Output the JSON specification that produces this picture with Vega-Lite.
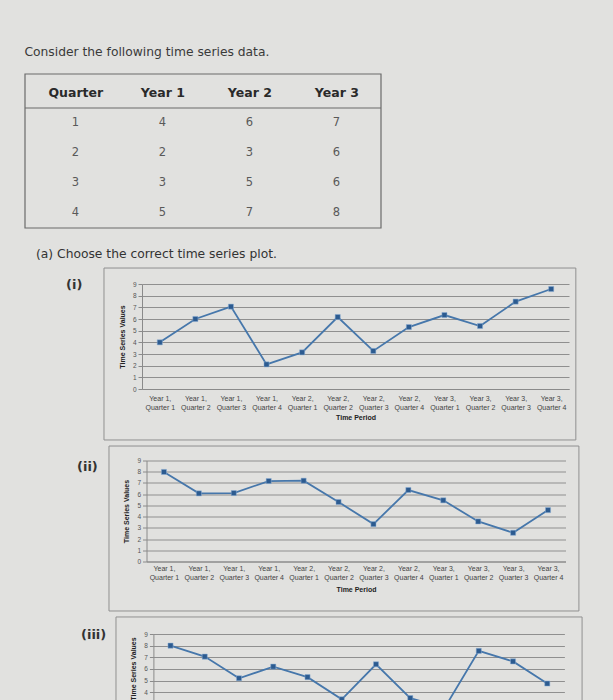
{
  "$schema": "https://vega.github.io/schema/vega-lite/v6.json",
  "background": "#e1e1df",
  "padding": {"top": 46, "left": 24, "right": 30, "bottom": 0},
  "bounds": "flush",
  "spacing": 0,
  "config": {"view": {"stroke": null}, "font": "DejaVu Sans"},
  "datasets": {
    "table": [
      {"quarter": 1, "column": "Quarter", "value": 1}, {"quarter": 1, "column": "Year 1", "value": 4}, {"quarter": 1, "column": "Year 2", "value": 6}, {"quarter": 1, "column": "Year 3", "value": 7},
      {"quarter": 2, "column": "Quarter", "value": 2}, {"quarter": 2, "column": "Year 1", "value": 2}, {"quarter": 2, "column": "Year 2", "value": 3}, {"quarter": 2, "column": "Year 3", "value": 6},
      {"quarter": 3, "column": "Quarter", "value": 3}, {"quarter": 3, "column": "Year 1", "value": 3}, {"quarter": 3, "column": "Year 2", "value": 5}, {"quarter": 3, "column": "Year 3", "value": 6},
      {"quarter": 4, "column": "Quarter", "value": 4}, {"quarter": 4, "column": "Year 1", "value": 5}, {"quarter": 4, "column": "Year 2", "value": 7}, {"quarter": 4, "column": "Year 3", "value": 8}
    ],
    "series": [
      {"plot": "i", "period": "Year 1, Quarter 1", "value": 4.0},
      {"plot": "i", "period": "Year 1, Quarter 2", "value": 6.0},
      {"plot": "i", "period": "Year 1, Quarter 3", "value": 7.06},
      {"plot": "i", "period": "Year 1, Quarter 4", "value": 2.11},
      {"plot": "i", "period": "Year 2, Quarter 1", "value": 3.14},
      {"plot": "i", "period": "Year 2, Quarter 2", "value": 6.17},
      {"plot": "i", "period": "Year 2, Quarter 3", "value": 3.26},
      {"plot": "i", "period": "Year 2, Quarter 4", "value": 5.31},
      {"plot": "i", "period": "Year 3, Quarter 1", "value": 6.34},
      {"plot": "i", "period": "Year 3, Quarter 2", "value": 5.4},
      {"plot": "i", "period": "Year 3, Quarter 3", "value": 7.49},
      {"plot": "i", "period": "Year 3, Quarter 4", "value": 8.57},
      {"plot": "ii", "period": "Year 1, Quarter 1", "value": 7.98},
      {"plot": "ii", "period": "Year 1, Quarter 2", "value": 6.07},
      {"plot": "ii", "period": "Year 1, Quarter 3", "value": 6.1},
      {"plot": "ii", "period": "Year 1, Quarter 4", "value": 7.17},
      {"plot": "ii", "period": "Year 2, Quarter 1", "value": 7.2},
      {"plot": "ii", "period": "Year 2, Quarter 2", "value": 5.3},
      {"plot": "ii", "period": "Year 2, Quarter 3", "value": 3.33},
      {"plot": "ii", "period": "Year 2, Quarter 4", "value": 6.37},
      {"plot": "ii", "period": "Year 3, Quarter 1", "value": 5.45},
      {"plot": "ii", "period": "Year 3, Quarter 2", "value": 3.57},
      {"plot": "ii", "period": "Year 3, Quarter 3", "value": 2.56},
      {"plot": "ii", "period": "Year 3, Quarter 4", "value": 4.58},
      {"plot": "iii", "period": "Year 1, Quarter 1", "value": 8.0},
      {"plot": "iii", "period": "Year 1, Quarter 2", "value": 7.06},
      {"plot": "iii", "period": "Year 1, Quarter 3", "value": 5.2},
      {"plot": "iii", "period": "Year 1, Quarter 4", "value": 6.2},
      {"plot": "iii", "period": "Year 2, Quarter 1", "value": 5.3},
      {"plot": "iii", "period": "Year 2, Quarter 2", "value": 3.4},
      {"plot": "iii", "period": "Year 2, Quarter 3", "value": 6.4},
      {"plot": "iii", "period": "Year 2, Quarter 4", "value": 3.5},
      {"plot": "iii", "period": "Year 3, Quarter 1", "value": 2.65},
      {"plot": "iii", "period": "Year 3, Quarter 2", "value": 7.55},
      {"plot": "iii", "period": "Year 3, Quarter 3", "value": 6.65},
      {"plot": "iii", "period": "Year 3, Quarter 4", "value": 4.75}
    ]
  },
  "vconcat": [
    {
      "width": 356,
      "height": 120,
      "title": {"text": "Consider the following time series data.", "anchor": "start", "offset": 15, "fontSize": 12.3, "fontWeight": "normal", "color": "#3a3a3a", "font": "DejaVu Sans"},
      "layer": [
        {
          "data": {"values": [{}]},
          "mark": {"type": "rect", "filled": false, "color": "#6b6b6b", "strokeWidth": 1.2},
          "encoding": {
            "y": {"datum": -0.633, "type": "quantitative", "scale": {"domain": [0.5, 4.5], "reverse": true, "nice": false, "zero": false}, "axis": null},
            "y2": {"datum": 4.5}
          }
        },
        {
          "data": {"values": [{}]},
          "mark": {"type": "rule", "color": "#6b6b6b", "strokeWidth": 1.2},
          "encoding": {
            "y": {"datum": 0.5, "type": "quantitative", "scale": {"domain": [0.5, 4.5], "reverse": true, "nice": false, "zero": false}, "axis": null}
          }
        },
        {
          "data": {"name": "table"},
          "mark": {"type": "text", "fontSize": 11.5, "color": "#595959", "baseline": "middle"},
          "encoding": {
            "x": {"field": "column", "type": "nominal", "sort": null,
                  "scale": {"type": "point", "domain": ["Quarter", "Year 1", "Year 2", "Year 3"], "padding": 0.546, "align": 0.53},
                  "axis": {"orient": "top", "title": null, "ticks": false, "domain": false, "labelAngle": 0, "labelFont": "DejaVu Sans", "labelFontSize": 12.5, "labelFontWeight": "bold", "labelColor": "#2a2a2a", "labelPadding": 9}},
            "y": {"field": "quarter", "type": "quantitative", "scale": {"domain": [0.5, 4.5], "reverse": true, "nice": false, "zero": false}, "axis": null},
            "text": {"field": "value"}
          }
        }
      ]
    },
    {
      "width": 22,
      "height": 56,
      "data": {"values": [{}]},
      "mark": {"type": "text", "text": "(a) Choose the correct time series plot.", "align": "left", "baseline": "middle", "fontSize": 12.3, "color": "#333333", "dy": -2},
      "encoding": {}
    },
    {
      "vconcat": [
        {
          "hconcat": [
            {
              "width": 82, "height": 2,
              "data": {"values": [{}]},
              "mark": {"type": "text", "text": "(i)", "align": "left", "baseline": "middle", "fontSize": 13, "fontWeight": "bold", "color": "#333333"},
              "encoding": {}
            },
            {
              "width": 427, "height": 105,
              "layer": [
                {
                  "data": {"values": [{}]},
                  "mark": {"type": "rect", "filled": false, "color": "#909090", "strokeWidth": 1},
                  "encoding": {
                    "x": {"datum": -0.089, "type": "quantitative", "scale": {"domain": [0, 1], "nice": false, "zero": false}, "axis": null},
                    "x2": {"datum": 1.016},
                    "y": {"datum": 10.37, "type": "quantitative", "scale": {"domain": [0, 9], "nice": false, "zero": false},
                          "axis": {"values": [0, 1, 2, 3, 4, 5, 6, 7, 8, 9], "title": "Time Series Values", "grid": true, "gridColor": "#8f8f8f", "gridWidth": 1, "domainColor": "#8a8a8a", "tickColor": "#8a8a8a", "tickSize": 4, "labelFont": "Liberation Sans", "labelFontSize": 6.5, "labelColor": "#555555", "labelPadding": 2, "titleFont": "Liberation Sans", "titleFontSize": 7, "titleFontWeight": "bold", "titleColor": "#222222", "titlePadding": 7}},
                    "y2": {"datum": -4.37}
                  }
                },
                {
                  "data": {"name": "series"},
                  "transform": [{"filter": "datum.plot == 'i'"}],
                  "mark": {"type": "line", "color": "#4677ab", "strokeWidth": 1.8,
                           "point": {"shape": "square", "size": 26, "filled": true, "color": "#2c5b90", "stroke": "#8fb0d6", "strokeWidth": 0.5}},
                  "encoding": {
                    "x": {"field": "period", "type": "ordinal", "sort": null, "scale": {"type": "point", "padding": 0.5},
                          "axis": {"title": "Time Period", "labelExpr": "[slice(datum.label, 0, 7), slice(datum.label, 8)]", "labelAngle": 0, "labelFont": "Liberation Sans", "labelFontSize": 7, "labelColor": "#444444", "labelLineHeight": 9, "labelPadding": 5, "ticks": false, "domainColor": "#8a8a8a", "titleFont": "Liberation Sans", "titleFontSize": 7, "titleFontWeight": "bold", "titleColor": "#222222", "titlePadding": 3, "labelOverlap": false}},
                    "y": {"field": "value", "type": "quantitative", "scale": {"domain": [0, 9], "nice": false, "zero": false},
                          "axis": {"values": [0, 1, 2, 3, 4, 5, 6, 7, 8, 9], "title": "Time Series Values", "grid": true, "gridColor": "#8f8f8f", "gridWidth": 1, "domainColor": "#8a8a8a", "tickColor": "#8a8a8a", "tickSize": 4, "labelFont": "Liberation Sans", "labelFontSize": 6.5, "labelColor": "#555555", "labelPadding": 2, "titleFont": "Liberation Sans", "titleFontSize": 7, "titleFontWeight": "bold", "titleColor": "#222222", "titlePadding": 7}}
                  }
                }
              ],
              "resolve": {"scale": {"x": "independent"}}
            }
          ],
          "spacing": 35,
          "bounds": "flush"
        },
        {
          "hconcat": [
            {
              "width": 104, "height": 13,
              "data": {"values": [{}]},
              "mark": {"type": "text", "text": "(ii)", "align": "left", "baseline": "middle", "fontSize": 13, "fontWeight": "bold", "color": "#333333"},
              "encoding": {}
            },
            {
              "width": 419, "height": 101,
              "layer": [
                {
                  "data": {"values": [{}]},
                  "mark": {"type": "rect", "filled": false, "color": "#909090", "strokeWidth": 1},
                  "encoding": {
                    "x": {"datum": -0.0895, "type": "quantitative", "scale": {"domain": [0, 1], "nice": false, "zero": false}, "axis": null},
                    "x2": {"datum": 1.032},
                    "y": {"datum": 10.29, "type": "quantitative", "scale": {"domain": [0, 9], "nice": false, "zero": false},
                          "axis": {"values": [0, 1, 2, 3, 4, 5, 6, 7, 8, 9], "title": "Time Series Values", "grid": true, "gridColor": "#8f8f8f", "gridWidth": 1, "domainColor": "#8a8a8a", "tickColor": "#8a8a8a", "tickSize": 4, "labelFont": "Liberation Sans", "labelFontSize": 6.5, "labelColor": "#555555", "labelPadding": 2, "titleFont": "Liberation Sans", "titleFontSize": 7, "titleFontWeight": "bold", "titleColor": "#222222", "titlePadding": 7}},
                    "y2": {"datum": -4.41}
                  }
                },
                {
                  "data": {"name": "series"},
                  "transform": [{"filter": "datum.plot == 'ii'"}],
                  "mark": {"type": "line", "color": "#4677ab", "strokeWidth": 1.8,
                           "point": {"shape": "square", "size": 26, "filled": true, "color": "#2c5b90", "stroke": "#8fb0d6", "strokeWidth": 0.5}},
                  "encoding": {
                    "x": {"field": "period", "type": "ordinal", "sort": null, "scale": {"type": "point", "padding": 0.5},
                          "axis": {"title": "Time Period", "labelExpr": "[slice(datum.label, 0, 7), slice(datum.label, 8)]", "labelAngle": 0, "labelFont": "Liberation Sans", "labelFontSize": 7, "labelColor": "#444444", "labelLineHeight": 9, "labelPadding": 3, "ticks": false, "domainColor": "#8a8a8a", "titleFont": "Liberation Sans", "titleFontSize": 7, "titleFontWeight": "bold", "titleColor": "#222222", "titlePadding": 5, "labelOverlap": false}},
                    "y": {"field": "value", "type": "quantitative", "scale": {"domain": [0, 9], "nice": false, "zero": false},
                          "axis": {"values": [0, 1, 2, 3, 4, 5, 6, 7, 8, 9], "title": "Time Series Values", "grid": true, "gridColor": "#8f8f8f", "gridWidth": 1, "domainColor": "#8a8a8a", "tickColor": "#8a8a8a", "tickSize": 4, "labelFont": "Liberation Sans", "labelFontSize": 6.5, "labelColor": "#555555", "labelPadding": 2, "titleFont": "Liberation Sans", "titleFontSize": 7, "titleFontWeight": "bold", "titleColor": "#222222", "titlePadding": 7}}
                  }
                }
              ],
              "resolve": {"scale": {"x": "independent"}}
            }
          ],
          "spacing": 17.5,
          "bounds": "flush"
        },
        {
          "hconcat": [
            {
              "width": 112, "height": 2,
              "data": {"values": [{}]},
              "mark": {"type": "text", "text": "(iii)", "align": "left", "baseline": "middle", "fontSize": 13, "fontWeight": "bold", "color": "#333333"},
              "encoding": {}
            },
            {
              "width": 411, "height": 69,
              "layer": [
                {
                  "data": {"values": [{}]},
                  "mark": {"type": "rect", "filled": false, "color": "#909090", "strokeWidth": 1},
                  "encoding": {
                    "x": {"datum": -0.091, "type": "quantitative", "scale": {"domain": [0, 1], "nice": false, "zero": false}, "axis": null},
                    "x2": {"datum": 1.043},
                    "y": {"datum": 10.46, "type": "quantitative", "scale": {"domain": [3.08, 9], "nice": false, "zero": false},
                          "axis": {"values": [4, 5, 6, 7, 8, 9], "title": "Time Series Values", "grid": true, "gridColor": "#8f8f8f", "gridWidth": 1, "domainColor": "#8a8a8a", "tickColor": "#8a8a8a", "tickSize": 4, "labelFont": "Liberation Sans", "labelFontSize": 6.5, "labelColor": "#555555", "labelPadding": 2, "titleFont": "Liberation Sans", "titleFontSize": 7, "titleFontWeight": "bold", "titleColor": "#222222", "titlePadding": 7}},
                    "y2": {"datum": 3.08}
                  }
                },
                {
                  "data": {"name": "series"},
                  "transform": [{"filter": "datum.plot == 'iii'"}],
                  "mark": {"type": "line", "color": "#4677ab", "strokeWidth": 1.8, "clip": true,
                           "point": {"shape": "square", "size": 26, "filled": true, "color": "#2c5b90", "stroke": "#8fb0d6", "strokeWidth": 0.5, "clip": true}},
                  "encoding": {
                    "x": {"field": "period", "type": "ordinal", "sort": null, "scale": {"type": "point", "padding": 0.5}, "axis": null},
                    "y": {"field": "value", "type": "quantitative", "scale": {"domain": [3.08, 9], "nice": false, "zero": false},
                          "axis": {"values": [4, 5, 6, 7, 8, 9], "title": "Time Series Values", "grid": true, "gridColor": "#8f8f8f", "gridWidth": 1, "domainColor": "#8a8a8a", "tickColor": "#8a8a8a", "tickSize": 4, "labelFont": "Liberation Sans", "labelFontSize": 6.5, "labelColor": "#555555", "labelPadding": 2, "titleFont": "Liberation Sans", "titleFontSize": 7, "titleFontWeight": "bold", "titleColor": "#222222", "titlePadding": 7}}
                  }
                }
              ],
              "resolve": {"scale": {"x": "independent"}}
            }
          ],
          "spacing": 16.4,
          "bounds": "flush"
        }
      ],
      "spacing": 4.5,
      "bounds": "full"
    }
  ]
}
